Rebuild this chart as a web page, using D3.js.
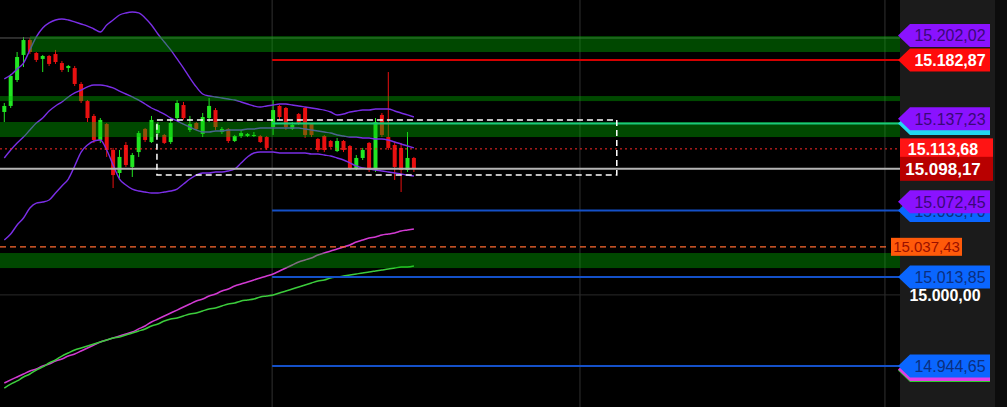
<!DOCTYPE html>
<html><head><meta charset="utf-8">
<script src="https://cdn.jsdelivr.net/npm/d3@7"></script>
<style>html,body{margin:0;padding:0;background:#000;overflow:hidden}svg{display:block}</style>
</head><body>
<script>
// ---------- DATA ----------
const opens = [15142.4,15147.1,15167.3,15186.8,15198.4,15188.3,15183.7,15186.0,15187.5,15180.5,
15176.6,15176.6,15164.2,15150.9,15139.3,15120.6,15133.0,15112.8,15094.9,15116.7,
15099.6,15111.2,15129.2,15119.0,15126.0,15124.5,15119.0,15137.7,15147.8,15128.4,
15133.8,15125.3,15137.7,15143.9,15126.8,15129.2,15119.8,15123.7,15123.7,15123.7,
15123.7,15122.9,15130.7,15147.1,15145.5,15129.2,15140.8,15145.5,15133.0,15121.4,
15123.7,15119.8,15112.0,15119.8,15115.9,15098.0,15106.6,15118.3,15097.2,15140.1,
15122.9,15116.7,15114.4,15097.2,15106.6];
const highs = [15149.4,15172.0,15189.1,15200.8,15200.0,15189.1,15186.8,15186.8,15190.7,15182.1,
15179.0,15178.2,15165.7,15151.7,15140.8,15137.7,15133.8,15114.4,15112.8,15119.0,
15110.5,15127.6,15129.9,15139.3,15134.6,15125.3,15137.7,15151.7,15150.2,15139.3,
15134.6,15141.6,15153.3,15145.5,15130.7,15129.9,15124.5,15128.4,15126.0,15126.8,
15124.5,15123.7,15151.7,15147.8,15146.3,15134.6,15141.6,15146.3,15133.8,15122.2,
15124.5,15120.6,15122.2,15120.6,15116.7,15108.9,15114.4,15119.0,15137.7,15141.6,
15173.5,15119.0,15118.3,15126.8,15107.4];
const lows = [15134.6,15145.5,15165.7,15177.4,15187.5,15181.3,15173.5,15178.2,15179.8,15173.5,
15173.5,15162.6,15149.4,15134.6,15118.3,15118.3,15107.4,15083.2,15091.0,15099.6,
15091.8,15107.4,15119.0,15118.3,15124.5,15117.5,15117.5,15136.2,15136.2,15126.8,
15127.6,15122.9,15134.6,15128.4,15125.3,15118.3,15119.0,15122.2,15122.9,15122.9,
15118.3,15112.8,15124.5,15136.2,15128.4,15128.4,15132.3,15122.2,15122.9,15111.2,
15111.2,15114.4,15111.2,15111.2,15097.2,15097.2,15105.0,15095.7,15095.7,15122.9,
15112.8,15089.5,15080.1,15095.7,15095.7];
const closes = [15147.1,15170.4,15185.2,15198.4,15189.1,15182.9,15186.0,15179.8,15181.3,15175.1,
15178.2,15164.2,15150.9,15137.7,15120.6,15136.2,15112.8,15093.3,15107.4,15101.1,
15108.9,15126.0,15120.6,15136.2,15132.3,15118.3,15133.8,15149.4,15137.7,15133.0,
15129.2,15138.5,15147.1,15130.7,15129.2,15119.8,15123.7,15126.0,15125.3,15124.5,
15119.0,15114.4,15143.9,15138.5,15130.7,15132.3,15133.8,15124.5,15124.5,15112.8,
15112.8,15115.2,15119.8,15112.8,15098.8,15106.6,15112.8,15097.2,15134.6,15124.5,
15114.4,15099.6,15097.2,15106.6,15098.2];

const bbUpper = [15168.1,15171.2,15175.9,15180.5,15190.7,15200.8,15207.8,15211.7,15214.0,15214.8,
15214.0,15212.5,15210.9,15209.3,15207.0,15204.7,15210.1,15214.0,15217.9,15219.5,
15220.2,15219.5,15215.6,15210.1,15203.1,15196.9,15190.7,15183.7,15176.6,15168.9,
15161.9,15156.4,15154.8,15154.1,15153.3,15152.5,15151.7,15150.2,15148.6,15147.1,
15146.3,15147.1,15147.8,15148.6,15148.6,15147.8,15147.1,15146.3,15145.5,15144.7,
15143.9,15142.4,15140.1,15140.8,15142.4,15143.2,15143.9,15143.9,15144.7,15144.7,
15144.7,15143.2,15141.6,15140.1,15138.5];
const bbMid = [15106.6,15112.8,15118.3,15122.9,15128.4,15133.8,15137.7,15143.2,15147.1,15150.2,
15154.1,15157.2,15159.5,15161.9,15163.4,15163.4,15162.6,15161.1,15158.7,15156.4,
15154.1,15151.7,15148.6,15145.5,15143.2,15140.8,15137.7,15135.4,15133.0,15130.7,
15128.4,15126.8,15126.8,15127.6,15127.6,15128.4,15128.4,15128.4,15129.2,15129.2,
15129.9,15129.9,15129.9,15129.9,15129.9,15129.9,15129.9,15129.2,15128.4,15127.6,
15126.8,15126.0,15124.5,15123.7,15122.9,15122.9,15122.2,15122.2,15121.4,15121.4,
15120.6,15119.0,15117.5,15115.9,15114.4];
const bbLower = [15042.7,15047.4,15054.4,15059.9,15067.7,15071.5,15072.3,15073.9,15079.3,15084.8,
15090.2,15100.4,15111.2,15116.7,15119.8,15120.6,15112.8,15101.1,15090.2,15085.6,
15082.4,15080.9,15080.1,15079.3,15079.3,15080.1,15080.9,15082.4,15086.3,15090.2,
15093.3,15094.9,15094.9,15095.7,15095.7,15096.5,15098.0,15102.7,15107.4,15110.5,
15111.2,15111.2,15111.2,15110.5,15110.5,15110.5,15110.5,15110.5,15109.7,15109.7,
15108.9,15108.1,15106.6,15105.0,15102.7,15100.4,15098.8,15098.0,15097.2,15096.5,
15095.7,15094.9,15094.1,15093.3,15092.6];
const maMagenta = [14931.4,14933.8,14936.1,14938.4,14940.8,14942.3,14944.7,14946.2,14948.5,14950.1,
14952.4,14954.0,14956.3,14958.7,14961.0,14963.3,14964.9,14966.4,14968.0,14969.6,
14971.1,14973.5,14975.8,14978.9,14981.2,14983.6,14985.9,14988.2,14990.6,14992.9,
14995.3,14996.8,14999.1,15000.7,15003.0,15004.6,15006.9,15008.5,15010.0,15011.6,
15013.2,15014.7,15016.3,15018.6,15020.9,15023.3,15025.6,15027.2,15028.7,15031.1,
15032.6,15034.2,15035.7,15037.3,15038.9,15041.2,15042.7,15044.3,15045.1,15046.6,
15047.4,15048.2,15049.7,15050.5,15051.3];
const maGreen = [14927.5,14930.6,14933.0,14936.1,14938.4,14941.5,14943.9,14947.0,14949.3,14952.4,
14954.8,14957.1,14958.7,14960.2,14961.8,14963.3,14964.9,14966.4,14967.2,14968.8,
14970.3,14971.9,14973.5,14975.8,14977.3,14979.7,14981.2,14982.0,14983.6,14985.1,
14985.9,14987.5,14989.0,14989.8,14991.4,14992.9,14993.7,14995.3,14996.0,14996.8,
14998.4,14999.1,14999.9,15001.5,15003.0,15004.6,15006.2,15007.7,15009.3,15010.8,
15011.6,15013.2,15013.9,15014.7,15015.5,15016.3,15017.1,15017.8,15018.6,15019.4,
15020.2,15020.9,15021.7,15021.7,15022.5];

// supply/demand zones
const zoneTop    = [15201.5, 15154.8, 15134.6, 15032.6];
const zoneBottom = [15189.1, 15150.9, 15122.9, 15020.9];
const zoneStart  = [4, -1, -1, -1];

// horizontal levels
const levelValues = [15200.0, 15182.87, 15133.40, 15113.68, 15098.17, 15065.70, 15037.43, 15013.85, 14944.65];
const levelStart  = [-1, 41.85, 41.85, -1, -1, 41.85, -1, 41.85, 41.85];
const levelKind   = ["grey","red","cyan","dotred","white","blue","dashorange","blue","blue"];

// session separators and range box
const sessionIdx = [41.85, 89.95, 137.6];
const boxIdx = [23.85, 95.7];
const boxPrice = [15136.2, 15093.3];

// right-axis labels (drawn in this order; hidden ones carry no visible text)
const labelValues = [15202.02, 15182.87, 15133.40, 15137.23, 15113.68, 15098.17, 15065.70, 15072.45, 15037.43, 15013.85, 14941.10, 14942.00, 14944.65];
const labelKind   = ["purple","red","cyan","purple","redBox","darkBox","blue","purple","orangeBox","blue","green","magenta","blue"];
const labelShowText = [true, true, false, true, true, true, true, true, true, true, false, false, true];
const axisTicks = [15000];

// ---------- STYLES ----------
const W = 1007, H = 407, plotRight = 900;
const styles = {
  purple:   {fill:"#8a12ff", text:"#3a0878", flag:true, bold:false},
  red:      {fill:"#ff0b0b", text:"#ffffff", flag:true, bold:true},
  cyan:     {fill:"#22d8f0", text:"#22d8f0", flag:true, bold:false},
  blue:     {fill:"#0a66ff", text:"#0b2f80", flag:true, bold:false},
  magenta:  {fill:"#e23de6", text:"#e23de6", flag:true, bold:false},
  green:    {fill:"#2ccc2c", text:"#2ccc2c", flag:true, bold:false},
  redBox:   {fill:"#ff1414", text:"#ffffff", flag:false, bold:true},
  darkBox:  {fill:"#b80000", text:"#ffffff", flag:false, bold:true},
  orangeBox:{fill:"#ff5a0a", text:"#9a1000", flag:false, bold:false}
};
const lineStyles = {
  grey:{c:"#5a5a5a",w:1,d:null},
  red:{c:"#d40000",w:2,d:null},
  cyan:{c:"#2ad0c8",w:2,d:null},
  dotred:{c:"#ff2a2a",w:1,d:"2,3"},
  white:{c:"#b4b4b4",w:2,d:null},
  blue:{c:"#1450c8",w:2,d:null},
  dashorange:{c:"#ff6a30",w:1.2,d:"6,4"}
};

const fmt = d3.formatLocale({decimal:",", thousands:".", grouping:[3], currency:["",""]}).format(",.2f");

const x = d3.scaleLinear().domain([0, 140]).range([4.3, 900.3]);
const y = d3.scaleLinear().domain([14944.65, 15182.87]).range([366, 60]);

const svg = d3.select("body").append("svg").attr("width", W).attr("height", H)
  .style("font-family", "'Liberation Sans', Arial, sans-serif");

svg.append("rect").attr("width", W).attr("height", H).attr("fill", "#000");
// axis panel
svg.append("rect").attr("x", plotRight).attr("y", 0).attr("width", 95).attr("height", H).attr("fill", "#1b1b1b");
svg.append("rect").attr("x", plotRight + 95).attr("y", 0).attr("width", W - plotRight - 95).attr("height", H).attr("fill", "#0c0c0c");

svg.append("defs").append("clipPath").attr("id", "plot")
  .append("rect").attr("x", 0).attr("y", 0).attr("width", plotRight).attr("height", H);
const plot = svg.append("g").attr("clip-path", "url(#plot)");

// grid
plot.selectAll("line.vg").data(sessionIdx).join("line")
  .attr("x1", d => x(d)).attr("x2", d => x(d)).attr("y1", 0).attr("y2", H)
  .attr("stroke", "#303030").attr("stroke-width", 1);
plot.selectAll("line.hg").data(axisTicks).join("line")
  .attr("x1", 0).attr("x2", plotRight).attr("y1", d => y(d)).attr("y2", d => y(d))
  .attr("stroke", "#2a2a2a").attr("stroke-width", 1);

// candles
const idx = d3.range(opens.length);
const cg = plot.append("g");
cg.selectAll("line").data(idx).join("line")
  .attr("x1", i => x(i)).attr("x2", i => x(i))
  .attr("y1", i => y(highs[i])).attr("y2", i => y(lows[i]))
  .attr("stroke", i => closes[i] >= opens[i] ? "#22e622" : "#e81010").attr("stroke-width", 1);
cg.selectAll("rect").data(idx).join("rect")
  .attr("x", i => x(i) - 2).attr("width", 4)
  .attr("y", i => y(Math.max(opens[i], closes[i])))
  .attr("height", i => Math.max(1, Math.abs(y(opens[i]) - y(closes[i]))))
  .attr("fill", i => closes[i] >= opens[i] ? "#22e622" : "#e81010");

// indicator lines
const line = arr => d3.line().x((d, i) => x(i)).y(d => y(d)).curve(d3.curveMonotoneX)(arr);
[bbUpper, bbMid, bbLower].forEach(a => plot.append("path").attr("d", line(a))
  .attr("fill", "none").attr("stroke", "#7a2ee6").attr("stroke-width", 1.4));
plot.append("path").attr("d", line(maMagenta)).attr("fill", "none").attr("stroke", "#d23ad2").attr("stroke-width", 1.5);
plot.append("path").attr("d", line(maGreen)).attr("fill", "none").attr("stroke", "#3ccc3c").attr("stroke-width", 1.5);

// levels
levelValues.forEach((v, i) => {
  const s = lineStyles[levelKind[i]];
  plot.append("line")
    .attr("x1", Math.max(0, x(levelStart[i]))).attr("x2", levelKind[i] === "dashorange" ? 890 : plotRight)
    .attr("y1", y(v)).attr("y2", y(v))
    .attr("stroke", s.c).attr("stroke-width", s.w).attr("stroke-dasharray", s.d);
});

// zones (translucent, on top)
zoneTop.forEach((t, i) => {
  plot.append("rect").attr("x", Math.max(0, x(zoneStart[i]))).attr("width", plotRight - Math.max(0, x(zoneStart[i])))
    .attr("y", y(t)).attr("height", y(zoneBottom[i]) - y(t))
    .attr("fill", "rgba(0,190,0,0.38)");
});

// range box
plot.append("rect").attr("x", x(boxIdx[0])).attr("width", x(boxIdx[1]) - x(boxIdx[0]))
  .attr("y", y(boxPrice[0])).attr("height", y(boxPrice[1]) - y(boxPrice[0]))
  .attr("fill", "none").attr("stroke", "#ffffff").attr("stroke-width", 1.5).attr("stroke-dasharray", "6,4");

// labels
const lg = svg.append("g");
labelValues.forEach((v, i) => {
  const st = styles[labelKind[i]];
  const yc = y(v);
  if (st.flag) {
    const hh = 11.5;
    lg.append("path")
      .attr("d", `M898,${yc} L910,${yc - hh} L990,${yc - hh} L990,${yc + hh} L910,${yc + hh} Z`)
      .attr("fill", st.fill);
    if (labelShowText[i]) {
      lg.append("text").attr("x", 950).attr("y", yc + 6).attr("text-anchor", "middle")
        .attr("font-size", 16).attr("font-weight", st.bold ? "bold" : "normal")
        .attr("fill", st.text).text(fmt(v));
    }
  } else if (labelKind[i] === "orangeBox") {
    lg.append("rect").attr("x", 891).attr("y", yc - 9).attr("width", 71).attr("height", 18).attr("fill", st.fill);
    lg.append("text").attr("x", 926.5).attr("y", yc + 5.5).attr("text-anchor", "middle")
      .attr("font-size", 15).attr("fill", st.text).text(fmt(v));
  } else {
    const hh = labelKind[i] === "darkBox" ? 12 : 10.5;
    lg.append("rect").attr("x", plotRight).attr("y", yc - hh).attr("width", 93).attr("height", 2 * hh).attr("fill", st.fill);
    lg.append("text").attr("x", 943).attr("y", yc + 6).attr("text-anchor", "middle")
      .attr("font-size", labelKind[i] === "darkBox" ? 17 : 16).attr("font-weight", "bold")
      .attr("fill", st.text).text(fmt(v));
  }
});

// axis tick
const axis = d3.axisRight(y).tickValues(axisTicks).tickSize(0).tickFormat(fmt);
const ag = svg.append("g").attr("transform", `translate(${plotRight},0)`).call(axis);
ag.select(".domain").remove();
ag.selectAll("text").attr("x", 45).attr("dy", "0.35em").attr("text-anchor", "middle")
  .attr("fill", "#ffffff").attr("font-size", 16).attr("font-weight", "bold")
  .style("font-family", "'Liberation Sans', Arial, sans-serif");
</script>
</body></html>
